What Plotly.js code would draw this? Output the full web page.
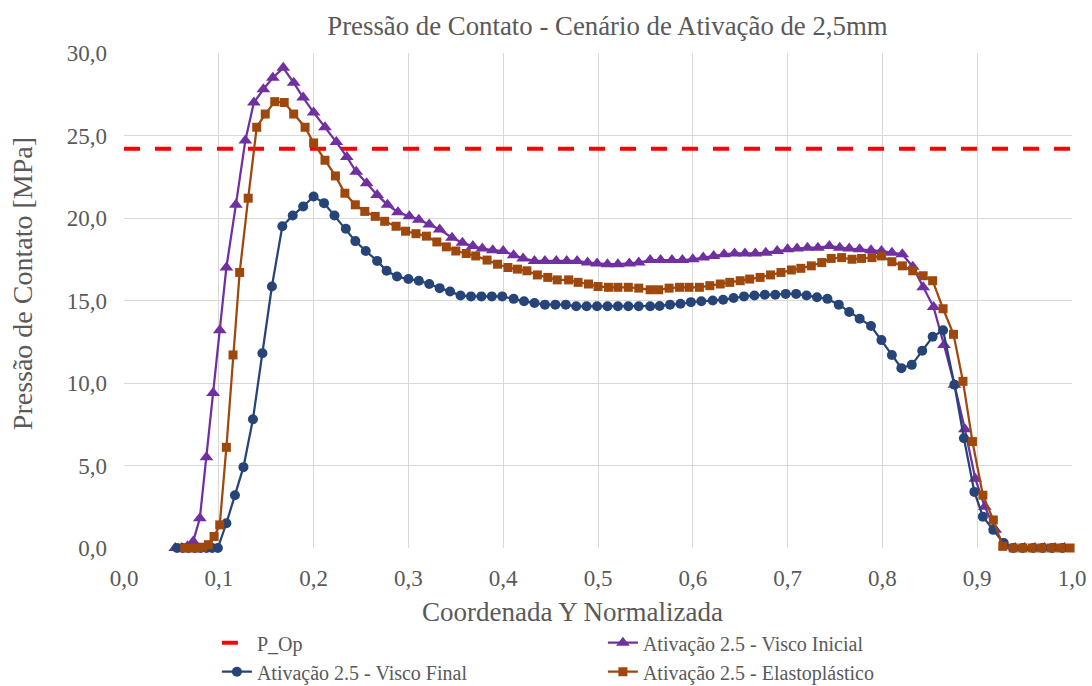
<!DOCTYPE html>
<html>
<head>
<meta charset="utf-8">
<script src="https://cdn.plot.ly/plotly-3.0.1.min.js"></script>
<style>html,body{margin:0;padding:0;background:#fff;}#chart{width:1092px;height:686px;}</style>
</head>
<body>
<div id="chart"></div>
<script>
// P_Op reference line
const pOpX = [0, 1];
const pOpY = [24.2, 24.2];

// Ativação 2.5 - Visco Inicial
const viscoInicialX = [0.054, 0.061, 0.067, 0.073, 0.080, 0.087, 0.094, 0.101, 0.108, 0.118, 0.128, 0.137, 0.147, 0.157, 0.168, 0.179, 0.189, 0.200, 0.212, 0.224, 0.235, 0.245, 0.256, 0.267, 0.278, 0.289, 0.301, 0.311, 0.322, 0.333, 0.346, 0.357, 0.368, 0.378, 0.389, 0.400, 0.411, 0.421, 0.433, 0.444, 0.456, 0.467, 0.478, 0.489, 0.499, 0.510, 0.521, 0.533, 0.543, 0.555, 0.566, 0.578, 0.589, 0.600, 0.611, 0.622, 0.633, 0.644, 0.655, 0.666, 0.677, 0.689, 0.700, 0.710, 0.721, 0.732, 0.744, 0.755, 0.765, 0.776, 0.788, 0.799, 0.810, 0.821, 0.832, 0.843, 0.854, 0.865, 0.876, 0.887, 0.898, 0.908, 0.919, 0.929, 0.940, 0.950, 0.961, 0.971, 0.982, 0.992];
const viscoInicialY = [0, 0, 0.1, 0.4, 1.8, 5.5, 9.4, 13.2, 17.0, 20.8, 24.7, 27.0, 27.8, 28.5, 29.1, 28.2, 27.3, 26.4, 25.5, 24.6, 23.7, 22.8, 22.1, 21.4, 20.8, 20.35, 20.1, 19.9, 19.6, 19.3, 18.8, 18.5, 18.3, 18.15, 18.05, 18.0, 17.75, 17.55, 17.4, 17.4, 17.4, 17.4, 17.4, 17.3, 17.25, 17.2, 17.2, 17.25, 17.3, 17.45, 17.45, 17.45, 17.45, 17.5, 17.6, 17.7, 17.8, 17.85, 17.85, 17.85, 17.9, 18.0, 18.1, 18.15, 18.2, 18.2, 18.3, 18.2, 18.15, 18.1, 18.05, 18.0, 17.9, 17.8, 17.05, 15.8, 14.6, 12.3, 9.9, 7.2, 4.2, 2.5, 1.1, 0.1, 0, 0, 0, 0, 0, 0];

// Ativação 2.5 - Visco Final
const viscoFinalX = [0.056, 0.062, 0.068, 0.075, 0.081, 0.087, 0.093, 0.099, 0.108, 0.117, 0.126, 0.136, 0.146, 0.156, 0.167, 0.178, 0.189, 0.200, 0.211, 0.222, 0.234, 0.244, 0.255, 0.267, 0.277, 0.288, 0.300, 0.311, 0.322, 0.333, 0.344, 0.355, 0.366, 0.377, 0.388, 0.399, 0.411, 0.422, 0.433, 0.444, 0.455, 0.466, 0.477, 0.488, 0.499, 0.510, 0.521, 0.532, 0.543, 0.555, 0.565, 0.576, 0.587, 0.598, 0.609, 0.621, 0.632, 0.643, 0.654, 0.665, 0.676, 0.687, 0.698, 0.709, 0.720, 0.731, 0.742, 0.754, 0.765, 0.776, 0.788, 0.799, 0.810, 0.820, 0.831, 0.842, 0.853, 0.864, 0.876, 0.886, 0.897, 0.906, 0.917, 0.928, 0.938, 0.948, 0.959, 0.969, 0.979, 0.990];
const viscoFinalY = [0, 0, 0, 0, 0, 0, 0, 0, 1.5, 3.2, 4.9, 7.8, 11.8, 15.85, 19.5, 20.15, 20.7, 21.3, 20.9, 20.15, 19.35, 18.6, 18.0, 17.4, 16.8, 16.45, 16.3, 16.2, 16.0, 15.75, 15.55, 15.3, 15.25, 15.25, 15.25, 15.25, 15.1, 14.95, 14.85, 14.75, 14.75, 14.75, 14.65, 14.65, 14.65, 14.65, 14.65, 14.65, 14.65, 14.65, 14.67, 14.75, 14.8, 14.9, 14.95, 15.0, 15.05, 15.15, 15.25, 15.3, 15.35, 15.35, 15.4, 15.4, 15.3, 15.2, 15.1, 14.75, 14.3, 13.9, 13.45, 12.6, 11.7, 10.9, 11.1, 11.95, 12.8, 13.2, 9.9, 6.65, 3.4, 1.9, 1.1, 0.3, 0, 0, 0, 0, 0, 0];

// Ativação 2.5 - Elastoplástico
const elastoX = [0.064, 0.071, 0.077, 0.083, 0.089, 0.095, 0.101, 0.108, 0.115, 0.122, 0.131, 0.140, 0.149, 0.159, 0.169, 0.179, 0.191, 0.200, 0.212, 0.223, 0.233, 0.244, 0.254, 0.265, 0.275, 0.287, 0.297, 0.308, 0.319, 0.330, 0.340, 0.350, 0.361, 0.371, 0.383, 0.394, 0.405, 0.415, 0.425, 0.436, 0.447, 0.457, 0.469, 0.479, 0.490, 0.500, 0.511, 0.521, 0.532, 0.543, 0.555, 0.564, 0.575, 0.586, 0.596, 0.607, 0.618, 0.629, 0.639, 0.650, 0.660, 0.671, 0.682, 0.693, 0.704, 0.714, 0.725, 0.736, 0.746, 0.757, 0.768, 0.778, 0.789, 0.799, 0.810, 0.821, 0.832, 0.843, 0.853, 0.864, 0.875, 0.885, 0.895, 0.906, 0.917, 0.927, 0.938, 0.948, 0.958, 0.968, 0.978, 0.988, 0.998];
const elastoY = [0, 0, 0, 0.05, 0.2, 0.7, 1.4, 6.1, 11.7, 16.7, 21.2, 25.5, 26.3, 27.05, 27.0, 26.3, 25.5, 24.55, 23.5, 22.55, 21.5, 20.8, 20.4, 20.1, 19.8, 19.5, 19.2, 19.05, 18.9, 18.55, 18.25, 18.0, 17.85, 17.7, 17.45, 17.2, 17.0, 16.9, 16.8, 16.55, 16.4, 16.25, 16.25, 16.1, 16.0, 15.85, 15.8, 15.8, 15.8, 15.75, 15.65, 15.65, 15.75, 15.8, 15.8, 15.8, 15.9, 16.0, 16.1, 16.2, 16.3, 16.4, 16.55, 16.7, 16.85, 16.95, 17.1, 17.3, 17.55, 17.6, 17.5, 17.55, 17.6, 17.7, 17.35, 17.1, 16.8, 16.5, 16.2, 14.5, 12.95, 10.1, 6.45, 3.2, 1.7, 0.1, 0, 0, 0, 0, 0, 0, 0];

const seriesNames = ['P_Op', 'Ativação 2.5 - Visco Inicial', 'Ativação 2.5 - Visco Final', 'Ativação 2.5 - Elastoplástico'];
const chartTitle = 'Pressão de Contato - Cenário de Ativação de 2,5mm';
const xTitle = 'Coordenada Y Normalizada';
const yTitle = 'Pressão de Contato [MPa]';

const FONT = 'Liberation Serif, Times New Roman, serif';
const GREY = '#595959';

const traces = [
  {x: pOpX, y: pOpY, name: seriesNames[0], mode: 'lines', cliponaxis: false,
   line: {color: '#FF0000', width: 4, dash: '16px,15px'}},
  {x: viscoInicialX, y: viscoInicialY, name: seriesNames[1], mode: 'lines+markers', cliponaxis: false,
   line: {color: '#7030A0', width: 2.25}, marker: {symbol: 'triangle-up', size: 12, color: '#7030A0'}},
  {x: viscoFinalX, y: viscoFinalY, name: seriesNames[2], mode: 'lines+markers', cliponaxis: false,
   line: {color: '#264478', width: 2.25}, marker: {symbol: 'circle', size: 10, color: '#264478'}},
  {x: elastoX, y: elastoY, name: seriesNames[3], mode: 'lines+markers', cliponaxis: false,
   line: {color: '#9E480E', width: 2.25}, marker: {symbol: 'square', size: 9, color: '#9E480E'}}
];

const layout = {
  width: 1092, height: 686,
  margin: {l: 124, r: 20, t: 53, b: 138, autoexpand: false},
  paper_bgcolor: '#FFFFFF', plot_bgcolor: '#FFFFFF',
  separators: ', ',
  font: {family: FONT, color: GREY, size: 22},
  title: {text: chartTitle, font: {family: FONT, size: 26.8, color: GREY},
          xref: 'paper', x: 0.51, xanchor: 'center', yref: 'container', y: 0.963, yanchor: 'middle'},
  xaxis: {range: [0, 1], dtick: 0.1, tick0: 0, tickformat: '.1f', showgrid: true, gridcolor: '#D9D9D9', gridwidth: 1,
          zeroline: false, showline: false, ticks: '', ticklabelstandoff: 14, automargin: false,
          tickfont: {family: FONT, size: 23, color: GREY}},
  yaxis: {range: [0, 30], dtick: 5, tick0: 0, tickformat: '.1f', showgrid: true, gridcolor: '#D9D9D9', gridwidth: 1,
          zeroline: false, showline: false, ticks: '', ticklabelstandoff: 16, automargin: false,
          tickfont: {family: FONT, size: 23, color: GREY}},
  annotations: [
    {text: xTitle, xref: 'paper', yref: 'paper', x: 0.4736, y: -0.129, xanchor: 'center', yanchor: 'middle',
     showarrow: false, font: {family: FONT, size: 27, color: GREY}},
    {text: yTitle, xref: 'paper', yref: 'paper', x: -0.1076, y: 0.535, xanchor: 'center', yanchor: 'middle',
     textangle: -90, showarrow: false, font: {family: FONT, size: 28, color: GREY}}
  ],
  showlegend: true,
  legend: {orientation: 'h', x: 0.098, xanchor: 'left', y: -0.152, yanchor: 'top', yref: 'paper',
           entrywidth: 341, entrywidthmode: 'pixels', font: {family: FONT, size: 20, color: GREY}, bgcolor: 'rgba(0,0,0,0)'}
};

Plotly.newPlot('chart', traces, layout, {displayModeBar: false, staticPlot: true});
</script>
</body>
</html>
